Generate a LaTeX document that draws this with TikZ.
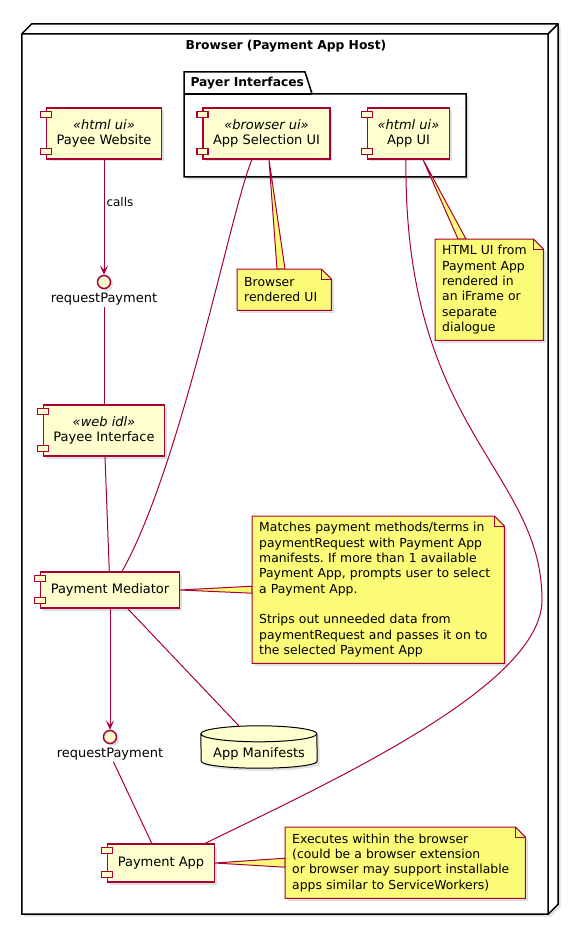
\documentclass[tikz,border=0pt]{standalone}
\usepackage{fontspec}
\setmainfont{DejaVu Sans}
\frenchspacing
\usetikzlibrary{
  arrows.meta,
  positioning,
  shadows
}

\definecolor{umlred}{HTML}{A80036}
\definecolor{umlfill}{HTML}{FEFECE}
\definecolor{notefill}{HTML}{FBFB77}

\pgfdeclarelayer{frame}
\pgfdeclarelayer{under}
\pgfsetlayers{frame,under,main}

% the two small tabs of a component
\newcommand\comptabs[1]{%
  \draw[tabbox] ([xshift=-5.5pt,yshift=-4pt]#1.north west) rectangle ([xshift=5.5pt,yshift=-10pt]#1.north west);
  \draw[tabbox] ([xshift=-5.5pt,yshift=5pt]#1.south west) rectangle ([xshift=5.5pt,yshift=11pt]#1.south west);}

% note outline with folded corner, drawn behind the text
\newcommand\notebox[1]{%
  \begin{pgfonlayer}{under}
    \draw[notepath] (#1.south west) -- (#1.north west) -- ([xshift=-10pt]#1.north east)
      -- ([yshift=-10pt]#1.north east) -- (#1.south east) -- cycle;
    \draw[notefold] ([xshift=-10pt]#1.north east) |- ([yshift=-10pt]#1.north east);
  \end{pgfonlayer}}

% callout from a component to its note
\newcommand\notewedge[3]{%
  \begin{pgfonlayer}{under}
    \draw[wedgepath] (#1) -- (#2) -- (#3) -- cycle;
  \end{pgfonlayer}}

\begin{document}
\begin{tikzpicture}[
    x=1pt, y=-1pt,
    font=\fontsize{13}{15}\selectfont,
    umlshadow/.style={drop shadow={shadow xshift=2.5pt, shadow yshift=-2.5pt, opacity=0.25}},
    comp/.style={rectangle, draw=umlred, fill=umlfill, line width=1.2pt, align=center, inner xsep=10pt, minimum height=37pt, umlshadow},
    stereocomp/.style={comp, minimum height=51pt},
    tabbox/.style={draw=umlred, fill=umlfill, line width=1.2pt},
    iface/.style={circle, draw=umlred, fill=umlfill, line width=1.5pt, minimum size=13pt, inner sep=0pt, umlshadow},
    ifacelabel/.style={inner sep=1pt},
    notetext/.style={anchor=north west, inner xsep=7pt, inner ysep=0pt, text width=#1, align=left, font=\fontsize{12.4}{15.3}\selectfont},
    notepath/.style={draw=umlred, fill=notefill, line width=1pt, umlshadow},
    wedgepath/.style={draw=umlred, fill=notefill, line width=1pt},
    notefold/.style={draw=umlred, line width=1pt},
    link/.style={draw=umlred, line width=1pt},
    arrow/.style={link, -{Stealth[length=9pt, width=8pt, inset=4pt]}},
    frame3d/.style={draw=black, fill=white, line width=1.5pt, line join=round, umlshadow},
    pkgbox/.style={draw=black, fill=white, line width=1.5pt, umlshadow},
    dbnode/.style={inner sep=0pt, minimum width=116pt, minimum height=42pt, text height=24pt, text depth=3.5pt},
    dbshape/.style={draw=black, fill=umlfill, line width=1pt, umlshadow},
    boxtitle/.style={font=\bfseries\fontsize{12.3}{14}\selectfont}
  ]
  \useasboundingbox (0,0) rectangle (569,925);

  % Browser node and package
  \begin{pgfonlayer}{frame}
    \node[minimum width=526pt, minimum height=880pt, inner sep=0pt] (browser) at (285,474) {};
    \draw[frame3d] (browser.south west) -- (browser.north west) -- ++(10pt,10pt)
      -- ([shift={(10pt,10pt)}]browser.north east) -- ([shift={(10pt,10pt)}]browser.south east)
      -- (browser.south east) -- cycle;
    \draw[line width=1.5pt, line join=round] (browser.north west) -- (browser.north east) -- (browser.south east)
      (browser.north east) -- ++(10pt,10pt);
    \draw[pkgbox] (184,177) -- (184,72) -- (305,72) -- (312,94) -- (466,94) -- (466,177) -- cycle;
    \draw[line width=1.5pt] (184,94) -- (312,94);
  \end{pgfonlayer}
  \node[boxtitle] (browsertitle) at (286,46) {Browser (Payment App Host)};
  \node[boxtitle, anchor=west] (payertitle) at (187,83) {Payer Interfaces};

  % Components
  \node[stereocomp] (pw) at (104,133.5) {\textit{«html ui»}\\Payee Website};
  \node[stereocomp] (asui) at (266.5,133.5) {\textit{«browser ui»}\\App Selection UI};
  \node[stereocomp] (appui) at (408.5,133.5) {\textit{«html ui»}\\App UI};
  \node[iface] (rp1) at (104,282) {};
  \node[ifacelabel, below=3pt of rp1] (rp1lbl) {requestPayment};
  \node[stereocomp] (payif) at (104,430.5) {\textit{«web idl»}\\Payee Interface};
  \node[comp, minimum height=36pt] (med) at (110,590) {Payment Mediator};
  \node[iface] (rp2) at (110,737) {};
  \node[ifacelabel, below=3pt of rp2] (rp2lbl) {requestPayment};
  \node[dbnode] (mf) at (259,747) {App Manifests};
  \node[comp, minimum height=38pt] (papp) at (161,863) {Payment App};

  \comptabs{pw}
  \comptabs{asui}
  \comptabs{appui}
  \comptabs{payif}
  \comptabs{med}
  \comptabs{papp}

  % database outline
  \begin{pgfonlayer}{under}
    \path[dbshape] ([yshift=-8pt]mf.north west) arc[start angle=180, end angle=0, x radius=58pt, y radius=8pt]
      -- ([yshift=7pt]mf.south east) arc[start angle=0, end angle=-180, x radius=58pt, y radius=7pt] -- cycle;
    \draw[line width=1pt] ([yshift=-8pt]mf.north west) arc[start angle=180, end angle=360, x radius=58pt, y radius=8pt];
  \end{pgfonlayer}

  % Notes
  \node[notetext=80pt, minimum height=41pt] (brnote) at (237,269) {Browser\\rendered UI};
  \node[notetext=94pt, minimum height=101pt] (htnote) at (435,239)
    {HTML UI from\\Payment App\\rendered in\\an iFrame or\\separate\\dialogue};
  \node[notetext=238pt, minimum height=147pt] (mednote) at (252,516)
    {Matches payment methods/terms in\\paymentRequest with Payment App\\manifests. If more than 1 available\\Payment App, prompts user to select\\a Payment App.\\[15.3pt]Strips out unneeded data from\\paymentRequest and passes it on to\\the selected Payment App};
  \node[notetext=226pt, minimum height=71pt] (panote) at (285,827)
    {Executes within the browser\\(could be a browser extension\\or browser may support installable\\apps similar to ServiceWorkers)};

  \notewedge{[xshift=2.5pt]asui.south}{[xshift=40pt]brnote.north west}{[xshift=48pt]brnote.north west}
  \notewedge{[xshift=14.5pt]appui.south}{[xshift=23pt]htnote.north west}{[xshift=31pt]htnote.north west}
  \notewedge{med.east}{[yshift=3.5pt]mednote.west}{[yshift=-3.5pt]mednote.west}
  \notewedge{papp.east}{[yshift=4.5pt]panote.west}{[yshift=-4.5pt]panote.west}
  \notebox{brnote}
  \notebox{htnote}
  \notebox{mednote}
  \notebox{panote}

  % Connectors
  \draw[arrow] (pw) -- node[pos=0.37, anchor=west, inner sep=2pt, font=\fontsize{12}{14}\selectfont] (callslbl) {calls} (rp1);
  \draw[link] (rp1lbl) -- (payif);
  \draw[link] (payif) -- (med);
  \draw[link] ([xshift=-14.5pt]asui.south) .. controls (232,205) and (182,465) .. ([xshift=12pt]med.north);
  \draw[link] ([xshift=-2.5pt]appui.south) .. controls (403,430) and (542,470) .. (542,600)
    .. controls (542,685) and (335,780) .. ([xshift=44pt]papp.north);
  \draw[arrow] (med) -- (rp2);
  \draw[link] (med) -- (mf);
  \draw[link] (rp2lbl) -- (papp);

\end{tikzpicture}
\end{document}
